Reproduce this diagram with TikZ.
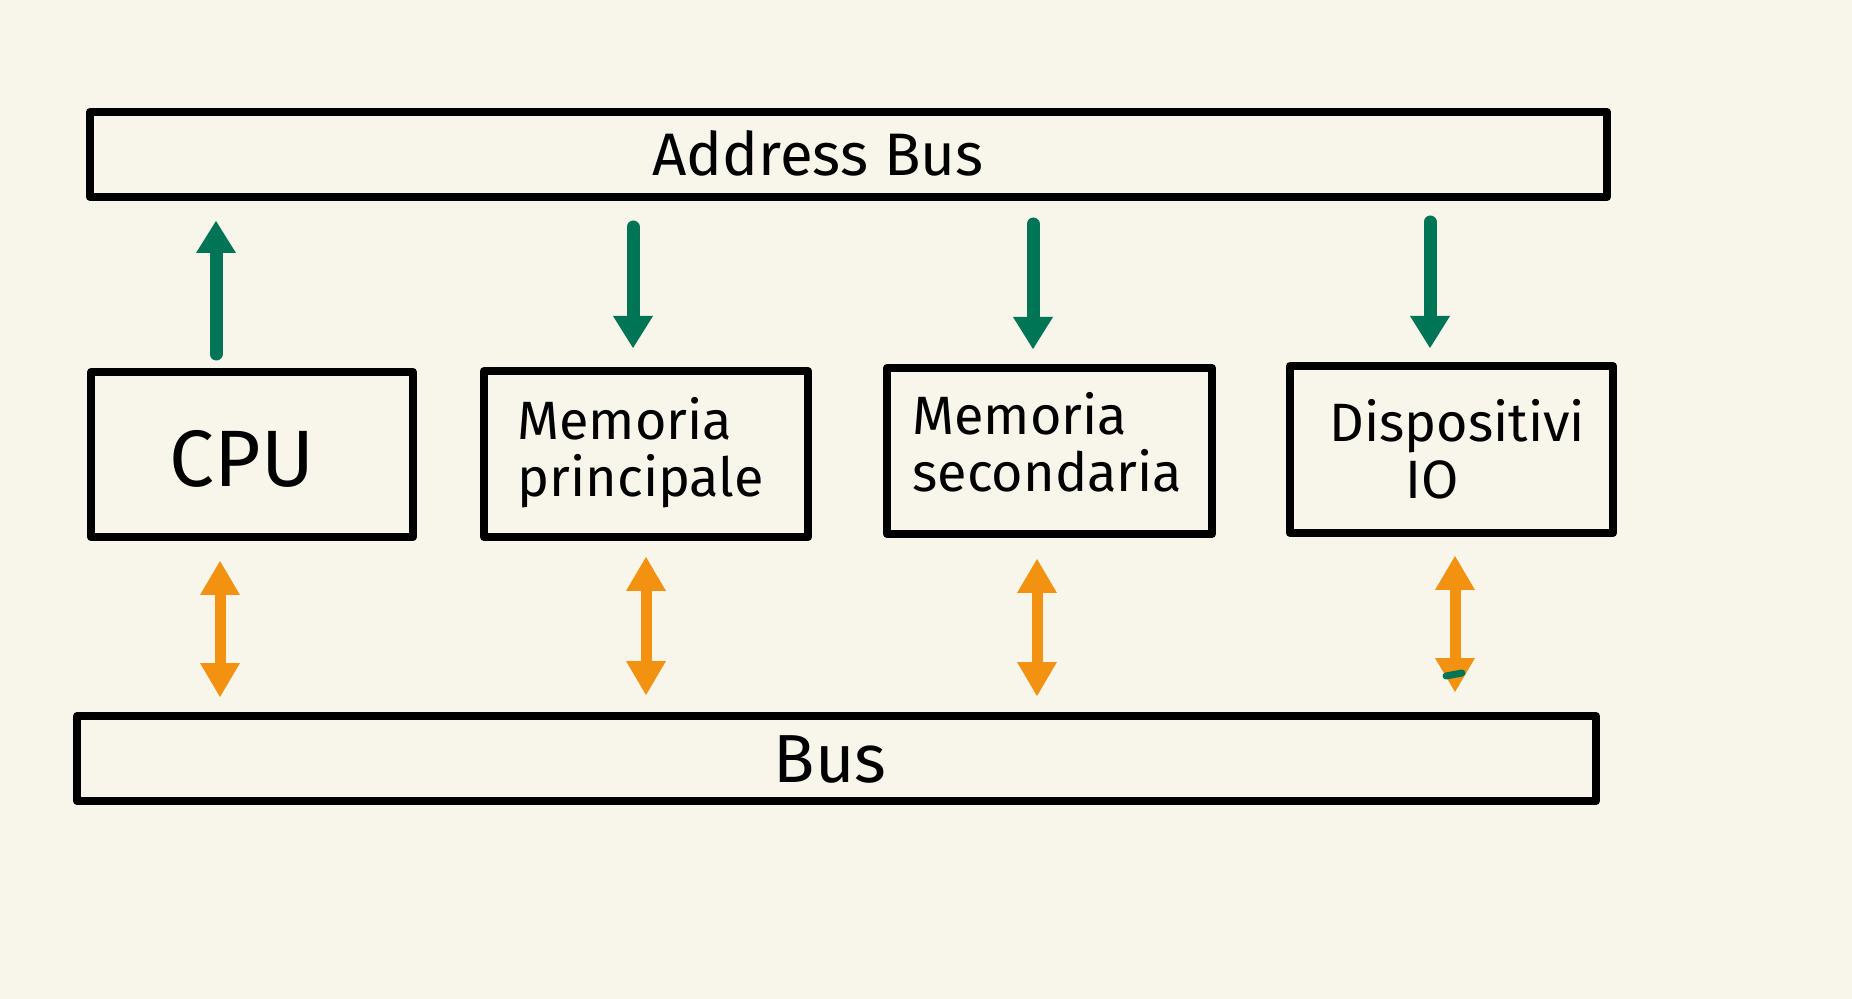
\documentclass[tikz,border=0pt]{standalone}
\usepackage{fontspec}
\setmainfont{Fira Sans}
\usetikzlibrary{arrows.meta}
\definecolor{bg}{RGB}{248,246,234}
\definecolor{gr}{RGB}{0,117,86}
\definecolor{og}{RGB}{243,145,16}
\begin{document}
\begin{tikzpicture}[x=0.5pt,y=-0.5pt,
  box/.style={draw=black,line width=4pt,inner sep=0pt,line join=round},
  garrow/.style={draw=gr,line width=6.5pt,line cap=round,-{Triangle[width=20pt,length=16pt,line width=0pt]}},
  oarrow/.style={draw=og,line width=5.5pt,{Triangle[width=20pt,length=17pt,line width=0pt]}-{Triangle[width=20pt,length=17pt,line width=0pt]}},
  lbl/.style={inner sep=0pt,font=\fontsize{27}{28.5}\selectfont,align=left}]
\fill[bg] (0,0) rectangle (1852,999);
\useasboundingbox (0,0) rectangle (1852,999);
% boxes
\node[box,minimum width=758.5pt,minimum height=42.5pt] (abus) at (848.5,154.5) {};
\node[box,minimum width=161pt,minimum height=82.5pt] (cpu) at (252,454.5) {};
\node[box,minimum width=162pt,minimum height=83pt] (memp) at (646,454) {};
\node[box,minimum width=162.5pt,minimum height=83pt] (mems) at (1049.5,451) {};
\node[box,minimum width=161.5pt,minimum height=83.5pt] (disp) at (1451.5,449.5) {};
\node[box,minimum width=759.5pt,minimum height=42.5pt] (bus) at (836.5,758.5) {};
% texts
\node[inner sep=0pt,font=\fontsize{30}{30}\selectfont] (tab) at (818,153) {Address Bus};
\node[inner sep=0pt,font=\fontsize{40}{40}\selectfont] (tcpu) at (242,459) {CPU};
\node[lbl,anchor=north west] (tmp) at (517,397) {Memoria\\principale};
\node[lbl,anchor=north west] (tms) at (912,392) {Memoria\\secondaria};
\node[lbl,anchor=north west] (tdi) at (1329,399) {Dispositivi\\\hspace*{38pt}IO};
\node[inner sep=0pt,font=\fontsize{34}{34}\selectfont] (tbus) at (830,759) {Bus};
% arrow columns
\coordinate (g1) at (216,0);
\coordinate (g2) at (633,0);
\coordinate (g3) at (1033,0);
\coordinate (g4) at (1430,0);
\coordinate (o1) at (220,0);
\coordinate (o2) at (646,0);
\coordinate (o3) at (1037,0);
\coordinate (o4) at (1455,0);
% green arrows
\draw[garrow,shorten <=7pt,shorten >=10pt] (cpu.north -| g1) -- (abus.south -| g1);
\draw[garrow,shorten <=13pt,shorten >=9.5pt] (abus.south -| g2) -- (memp.north -| g2);
\draw[garrow,shorten <=11.5pt,shorten >=7.5pt] (abus.south -| g3) -- (mems.north -| g3);
\draw[garrow,shorten <=10.5pt,shorten >=7pt] (abus.south -| g4) -- (disp.north -| g4);
% orange arrows
\draw[oarrow,shorten <=10pt,shorten >=7.5pt] (cpu.south -| o1) -- (bus.north -| o1);
\draw[oarrow,shorten <=8pt,shorten >=8.5pt] (memp.south -| o2) -- (bus.north -| o2);
\draw[oarrow,shorten <=10.5pt,shorten >=8pt] (mems.south -| o3) -- (bus.north -| o3);
\draw[oarrow,shorten <=9.5pt,shorten >=10pt] (disp.south -| o4) -- (bus.north -| o4);
% stray mark
\draw[gr,line width=3.5pt,line cap=round] (1446,676) -- (1462,673);
\end{tikzpicture}
\end{document}
